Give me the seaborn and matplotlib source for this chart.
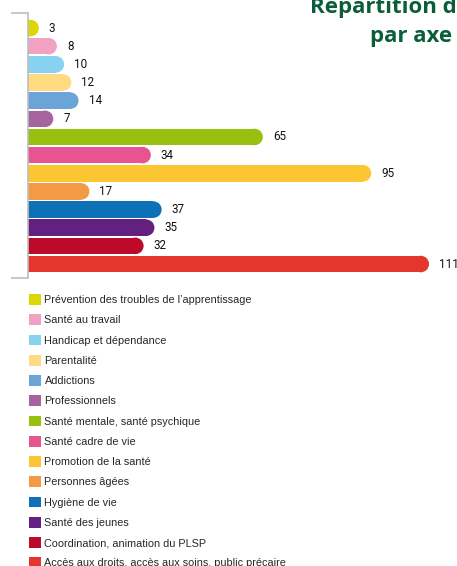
import matplotlib
matplotlib.use("Agg")
import matplotlib.pyplot as plt
from matplotlib.patches import Ellipse, Patch
import seaborn as sns
import pandas as pd

# data
axes_labels = [
    "Prévention des troubles de l\u2019apprentissage",
    "Santé au travail",
    "Handicap et dépendance",
    "Parentalité",
    "Addictions",
    "Professionnels",
    "Santé mentale, santé psychique",
    "Santé cadre de vie",
    "Promotion de la santé",
    "Personnes âgées",
    "Hygiène de vie",
    "Santé des jeunes",
    "Coordination, animation du PLSP",
    "Accès aux droits, accès aux soins, public précaire",
]
nb_actions = [3, 8, 10, 12, 14, 7, 65, 34, 95, 17, 37, 35, 32, 111]
colors = ["#dcd700", "#f1a1c1", "#86d2f0", "#ffda80", "#6ba4d7", "#a6649f",
          "#98c00e", "#e65492", "#fcc633", "#f39a46", "#0c72b5", "#62207f",
          "#bd0a2a", "#e5362d"]

df = pd.DataFrame({"axe": axes_labels, "n": nb_actions})

sns.set_style("white")
plt.rcParams["font.family"] = ["Liberation Sans", "DejaVu Sans"]

W, H = 457, 566
fig = plt.figure(figsize=(W / 100, H / 100), dpi=100)
ax = fig.add_axes([28 / W, 1 - 278 / H, (W - 28) / W, (278 - 13) / H])

bar_h = 0.91
sns.barplot(data=df, x="n", y="axe", hue="axe", palette=colors, orient="h",
            width=bar_h, legend=False, ax=ax, saturation=1, linewidth=0)

xmax = 429 / (401 / 111)
ax.set_xlim(0, xmax)
ax.set_ylim(13.77, -0.83)

# rounded right end on every bar
px_x = 429 / xmax
px_y = (278 - 13) / (13.77 + 0.83)
rx = (bar_h / 2) * px_y / px_x
for p, c in zip(ax.patches[:len(nb_actions)], colors):
    w = p.get_width()
    y = p.get_y() + p.get_height() / 2
    p.set_width(w - rx)
    ax.add_patch(Ellipse((w - rx, y), 2 * rx, bar_h, facecolor=c, edgecolor="none"))
    ax.text(w + 10 / px_x, y, f"{w:g}", va="center", ha="left", fontsize=8.4,
            color="#111111", family=["Roboto", "DejaVu Sans"])

for s in ["top", "right", "bottom"]:
    ax.spines[s].set_visible(False)
ax.spines["left"].set_color("#bdbdbd")
ax.spines["left"].set_linewidth(1.2)
ax.set_xticks([])
ax.set_yticks([13.77, -0.83])
ax.set_yticklabels(["", ""])
ax.tick_params(axis="y", length=12.5, width=1.2, color="#bdbdbd", direction="out", left=True)
ax.set_xlabel("")
ax.set_ylabel("")

handles = [Patch(facecolor=c, edgecolor="none", label=l) for c, l in zip(colors, axes_labels)]
fig.legend(handles=handles, loc="upper left", bbox_to_anchor=(29 / W, 1 - 294 / H),
           frameon=False, fontsize=7.8, handlelength=1.15, handleheight=1.15,
           handletextpad=0.28, labelspacing=0.85, borderaxespad=0, borderpad=0)

fig.text(310 / W, 1 - 13 / H, "Répartition des actions", fontsize=16, fontweight="bold",
         color="#0b5e3b", family=["Open Sans", "DejaVu Sans"], ha="left", va="baseline")
fig.text(370 / W, 1 - 42 / H, "par axe", fontsize=16, fontweight="bold",
         color="#0b5e3b", family=["Open Sans", "DejaVu Sans"], ha="left", va="baseline")

fig.savefig("out.png", dpi=100)
